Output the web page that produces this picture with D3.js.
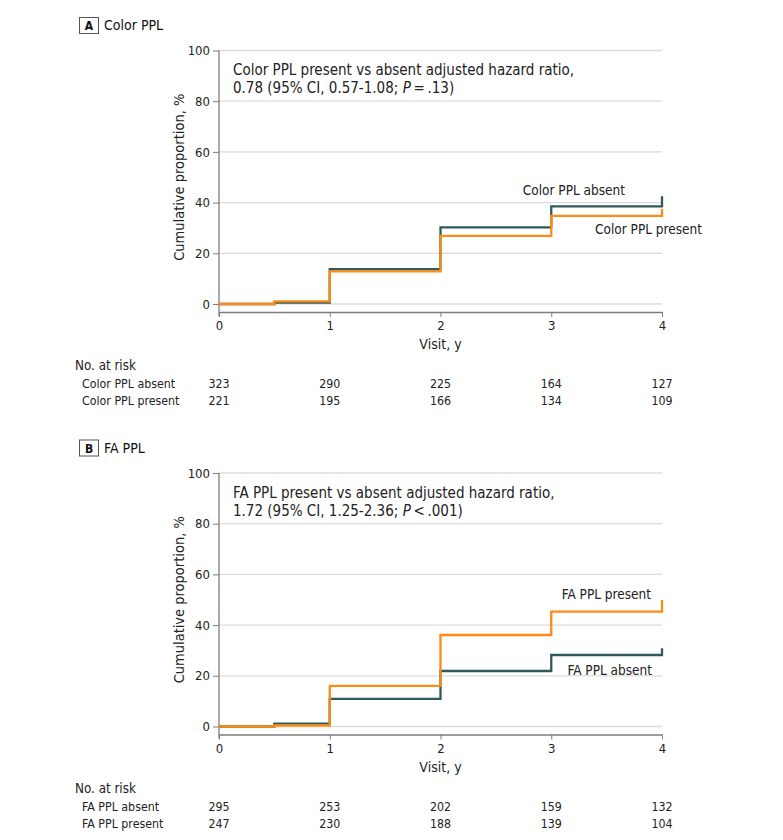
<!DOCTYPE html>
<html><head><meta charset="utf-8">
<script src="https://cdn.jsdelivr.net/npm/d3@7"></script>
<style>body{margin:0;background:#fff}</style></head><body>
<svg id="c" width="783" height="840"></svg>
<script>
// ---- data ----
const visitTicks = [0, 1, 2, 3, 4];
const yTicks = [0, 20, 40, 60, 80, 100];
const stepTimes = [0, 0.5, 1, 2, 3, 4];
const colorAbsent  = [0, 0.6, 13.7, 30.2, 38.5, 42.5];
const colorPresent = [0, 1.0, 12.9, 26.9, 34.8, 37.5];
const faAbsent     = [0, 1.1, 10.9, 21.9, 28.2, 30.9];
const faPresent    = [0, 0.4, 16.0, 36.1, 45.3, 49.9];
const riskColorAbsent  = [323, 290, 225, 164, 127];
const riskColorPresent = [221, 195, 166, 134, 109];
const riskFaAbsent     = [295, 253, 202, 159, 132];
const riskFaPresent    = [247, 230, 188, 139, 104];

const TEAL = "#2e5b59", ORANGE = "#ff8a14";
const FONT = "'Liberation Sans Narrow','DejaVu Sans Condensed','Open Sans',sans-serif";

const panels = [
  { dy: 0, letter: "A", title: "Color PPL",
    hr1: "Color PPL present vs absent adjusted hazard ratio,",
    hr2a: "0.78 (95% CI, 0.57-1.08; ", hr2b: "\u2009=\u2009.13)",
    absent: colorAbsent, present: colorPresent,
    absentLabel: "Color PPL absent", presentLabel: "Color PPL present",
    absentLab: {x: 625, y: 195}, presentLab: {x: 702, y: 234},
    riskAbsent: riskColorAbsent, riskPresent: riskColorPresent },
  { dy: 422.5, letter: "B", title: "FA PPL",
    hr1: "FA PPL present vs absent adjusted hazard ratio,",
    hr2a: "1.72 (95% CI, 1.25-2.36; ", hr2b: "\u2009<\u2009.001)",
    absent: faAbsent, present: faPresent,
    absentLabel: "FA PPL absent", presentLabel: "FA PPL present",
    absentLab: {x: 652, y: 252.5}, presentLab: {x: 651, y: 176.5},
    riskAbsent: riskFaAbsent, riskPresent: riskFaPresent }
];

const svg = d3.select("#c").style("font-family", FONT);
const x = d3.scaleLinear().domain([0, 4]).range([219, 662]);
const y = d3.scaleLinear().domain([0, 100]).range([304, 50.5]);
const AXIS = "#7d7d7d";
const INK = "#222";

panels.forEach(p => {
  const g = svg.append("g").attr("transform", `translate(0,${p.dy})`);
  // panel header
  g.append("rect").attr("x", 79.5).attr("y", 17.5).attr("width", 19).attr("height", 16)
    .attr("fill", "#fff").attr("stroke", "#555").attr("stroke-width", 1);
  g.append("text").attr("x", 89).attr("y", 30).attr("text-anchor", "middle")
    .attr("font-size", 12).attr("font-weight", "bold").attr("fill", "#111").text(p.letter);
  g.append("text").attr("x", 104).attr("y", 30).attr("font-size", 14).attr("fill", "#111").text(p.title);

  // gridlines
  g.selectAll(".grid").data(yTicks).enter().append("line")
    .attr("x1", x(0)).attr("x2", x(4)).attr("y1", d => y(d)).attr("y2", d => y(d))
    .attr("stroke", "#dcdcdc").attr("stroke-width", 1.3);

  // y axis
  const ya = g.append("g").attr("transform", `translate(${x(0)},0)`)
    .call(d3.axisLeft(y).tickValues(yTicks).tickSize(6).tickSizeOuter(0).tickPadding(3));
  ya.select(".domain").remove();
  ya.selectAll("line").attr("stroke", AXIS);
  ya.selectAll("text").attr("font-size", 13).attr("fill", INK).attr("font-family", FONT);
  g.append("line").attr("x1", x(0)).attr("x2", x(0)).attr("y1", y(100)).attr("y2", 316)
    .attr("stroke", AXIS).attr("stroke-width", 1.3);

  // x axis
  const xa = g.append("g").attr("transform", `translate(0,312)`)
    .call(d3.axisBottom(x).tickValues(visitTicks).tickFormat(d3.format("d"))
      .tickSize(5).tickSizeOuter(0).tickPadding(4));
  xa.select(".domain").attr("stroke", AXIS).attr("stroke-width", 1.3);
  xa.selectAll("line").attr("stroke", AXIS);
  xa.selectAll("text").attr("font-size", 13).attr("fill", INK).attr("font-family", FONT);

  // axis titles
  g.append("text").attr("transform", `translate(184,${(y(0) + y(100)) / 2}) rotate(-90)`)
    .attr("text-anchor", "middle").attr("font-size", 14.5).attr("fill", INK).text("Cumulative proportion, %");
  g.append("text").attr("x", (x(0) + x(4)) / 2).attr("y", 349).attr("text-anchor", "middle")
    .attr("font-size", 14).attr("fill", INK).text("Visit, y");

  // annotation
  g.append("text").attr("x", 233).attr("y", 75).attr("font-size", 15).attr("fill", INK).text(p.hr1);
  const t2 = g.append("text").attr("x", 233).attr("y", 93).attr("font-size", 15).attr("fill", INK);
  t2.append("tspan").text(p.hr2a);
  t2.append("tspan").attr("font-style", "italic").text("P");
  t2.append("tspan").text(p.hr2b);

  // step lines
  const line = d3.line().x((d, i) => x(stepTimes[i])).y(d => y(d)).curve(d3.curveStepAfter);
  g.append("path").attr("d", line(p.absent)).attr("fill", "none").attr("stroke", TEAL).attr("stroke-width", 2.3);
  g.append("path").attr("d", line(p.present)).attr("fill", "none").attr("stroke", ORANGE).attr("stroke-width", 2.3);

  // series labels
  g.append("text").attr("x", p.absentLab.x).attr("y", p.absentLab.y).attr("text-anchor", "end")
    .attr("font-size", 13.5).attr("fill", INK).text(p.absentLabel);
  g.append("text").attr("x", p.presentLab.x).attr("y", p.presentLab.y).attr("text-anchor", "end")
    .attr("font-size", 13.5).attr("fill", INK).text(p.presentLabel);

  // risk table
  g.append("text").attr("x", 75).attr("y", 370).attr("font-size", 13.3).attr("fill", INK).text("No. at risk");
  g.append("text").attr("x", 82).attr("y", 388).attr("font-size", 12.3).attr("fill", INK).text(p.absentLabel);
  g.append("text").attr("x", 82).attr("y", 405).attr("font-size", 12.3).attr("fill", INK).text(p.presentLabel);
  g.selectAll(".ra").data(p.riskAbsent).enter().append("text")
    .attr("x", (d, i) => x(visitTicks[i])).attr("y", 388).attr("text-anchor", "middle")
    .attr("font-size", 12.3).attr("fill", INK).text(d => d);
  g.selectAll(".rp").data(p.riskPresent).enter().append("text")
    .attr("x", (d, i) => x(visitTicks[i])).attr("y", 405).attr("text-anchor", "middle")
    .attr("font-size", 12.3).attr("fill", INK).text(d => d);
});
</script>
</body></html>
